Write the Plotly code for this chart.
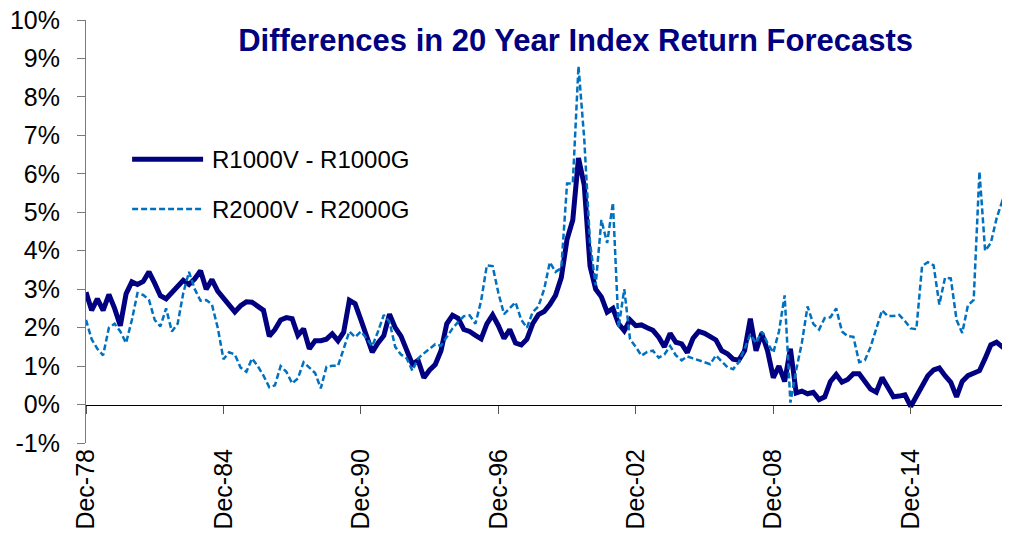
import pandas as pd
import plotly.graph_objects as go

# Quarterly observations, Dec-1978 .. Mar-2019
dates = pd.date_range("1978-12-31", periods=162, freq="QE")

r1000 = [
    2.92, 2.45, 2.75, 2.45, 2.86, 2.50, 2.05, 2.88, 3.19, 3.12,
    3.20, 3.45, 3.15, 2.83, 2.75, 2.92, 3.07, 3.23, 3.12, 3.27,
    3.48, 3.00, 3.25, 2.95, 2.77, 2.60, 2.41, 2.57, 2.67, 2.66,
    2.55, 2.45, 1.78, 1.95, 2.20, 2.26, 2.23, 1.80, 1.97, 1.45,
    1.66, 1.66, 1.70, 1.84, 1.66, 1.88, 2.71, 2.62, 2.20, 1.75,
    1.36, 1.60, 1.79, 2.35, 2.00, 1.78, 1.40, 1.05, 1.15, 0.70,
    0.90, 1.04, 1.40, 2.10, 2.32, 2.24, 1.95, 1.90, 1.80, 1.71,
    2.10, 2.33, 2.05, 1.72, 1.95, 1.60, 1.55, 1.70, 2.10, 2.34,
    2.42, 2.60, 2.84, 3.30, 4.30, 4.80, 6.41, 5.70, 3.60, 3.00,
    2.80, 2.40, 2.50, 2.10, 1.92, 2.20, 2.05, 2.07, 2.00, 1.93,
    1.75, 1.50, 1.85, 1.62, 1.58, 1.35, 1.72, 1.90, 1.85, 1.78,
    1.68, 1.40, 1.32, 1.18, 1.15, 1.40, 2.23, 1.40, 1.85, 1.40,
    0.70, 1.00, 0.60, 1.45, 0.30, 0.35, 0.28, 0.32, 0.13, 0.20,
    0.60, 0.78, 0.58, 0.65, 0.80, 0.80, 0.60, 0.40, 0.32, 0.70,
    0.45, 0.20, 0.22, 0.25, -0.05, 0.20, 0.45, 0.75, 0.90, 0.95,
    0.75, 0.58, 0.20, 0.60, 0.75, 0.80, 0.88, 1.20, 1.55, 1.62,
    1.50, 1.63,
]

r2000 = [
    2.20, 1.70, 1.45, 1.28, 2.00, 2.10, 1.90, 1.60, 2.20, 2.90,
    2.85, 2.72, 2.20, 2.03, 2.50, 1.90, 2.10, 2.90, 3.45, 3.00,
    2.70, 2.72, 2.60, 2.00, 1.18, 1.36, 1.30, 0.96, 0.85, 1.20,
    1.00, 0.75, 0.45, 0.50, 1.00, 0.85, 0.55, 0.68, 1.10, 0.95,
    0.82, 0.42, 0.98, 1.01, 1.01, 1.45, 1.90, 1.75, 1.90, 1.72,
    1.52, 1.90, 2.33, 2.15, 1.50, 1.30, 1.20, 0.88, 1.20, 1.33,
    1.45, 1.57, 1.53, 1.75, 1.98, 2.15, 2.30, 2.32, 2.10, 2.70,
    3.62, 3.60, 2.90, 2.35, 2.50, 2.66, 2.20, 2.00, 2.40, 2.55,
    3.00, 3.70, 3.45, 3.55, 5.75, 5.75, 8.80, 6.90, 4.20, 3.10,
    4.80, 4.20, 5.25, 2.00, 3.00, 1.70, 1.50, 1.27, 1.37, 1.40,
    1.22, 1.30, 1.52, 1.28, 1.15, 1.25, 1.20, 1.14, 1.10, 1.05,
    1.28, 1.12, 0.97, 0.92, 1.10, 1.45, 1.82, 1.60, 1.90, 1.60,
    1.35, 1.90, 2.84, 0.05, 0.90, 1.60, 2.55, 2.10, 1.95, 2.25,
    2.27, 2.50, 1.90, 1.78, 1.76, 1.10, 1.15, 1.50, 2.00, 2.45,
    2.30, 2.30, 2.33, 2.17, 1.98, 1.96, 3.60, 3.70, 3.62, 2.60,
    3.30, 3.28, 2.20, 1.86, 2.58, 2.72, 6.06, 4.00, 4.20, 4.84,
    5.30, 5.15,
]

series_names = ["R1000V - R1000G", "R2000V - R2000G"]
tick_dates = ["1978-12-31", "1984-12-31", "1990-12-31", "1996-12-31",
              "2002-12-31", "2008-12-31", "2014-12-31"]
tick_labels = ["Dec-78", "Dec-84", "Dec-90", "Dec-96", "Dec-02", "Dec-08", "Dec-14"]
y_ticks = list(range(-1, 11))
y_labels = [f"{v}%" for v in y_ticks]

FONT = "Liberation Sans, Arial, sans-serif"
NAVY = "#000080"
BLUE = "#0070C0"
AXIS_GREY = "#7a7a7a"
solid_style = dict(color=NAVY, width=5)
dash_style = dict(color=BLUE, width=2.5, dash="6px,3px")

fig = go.Figure()
fig.add_trace(go.Scatter(x=dates, y=r1000, mode="lines", name=series_names[0],
                         line=solid_style, showlegend=False))
fig.add_trace(go.Scatter(x=dates, y=r2000, mode="lines", name=series_names[1],
                         line=dash_style, showlegend=False))
# invisible trace carrying the zero-crossing axis with tick marks
fig.add_trace(go.Scatter(x=dates, y=r1000, xaxis="x2", mode="lines",
                         showlegend=False, hoverinfo="skip",
                         line=dict(width=0), opacity=0))

# legend drawn in the plot area (long line samples as in the original)
for i, (name, style) in enumerate(zip(series_names, [solid_style, dash_style])):
    ypos = 0.671 - i * 0.118
    fig.add_shape(type="line", xref="paper", yref="paper",
                  x0=0.050, x1=0.127, y0=ypos, y1=ypos, line=style)
    fig.add_annotation(text=name, xref="paper", yref="paper",
                       x=0.1345, y=ypos, xanchor="left", yanchor="middle",
                       showarrow=False, font=dict(size=24, family=FONT, color="black"))

x_range = ["1978-12-31", "2019-03-31"]

fig.update_layout(
    width=1010, height=544,
    margin=dict(l=78, r=10, t=12, b=109, autoexpand=False),
    paper_bgcolor="white", plot_bgcolor="white",
    font=dict(family=FONT, color="black", size=25),
    title=dict(
        text="<b>Differences in 20 Year Index Return Forecasts</b>",
        font=dict(family=FONT, size=31, color=NAVY),
        x=0.562, xanchor="center", y=0.941, yanchor="middle",
    ),
    showlegend=False,
    xaxis=dict(
        type="date", range=x_range, automargin=False,
        tickvals=tick_dates, ticktext=tick_labels, tickangle=-90,
        ticks="", showline=False, showgrid=False, zeroline=False,
        tickfont=dict(size=25, family=FONT), ticklabeloverflow="allow",
    ),
    xaxis2=dict(
        type="date", range=x_range, overlaying="x", anchor="free",
        position=1 / 11, tickvals=tick_dates, ticks="outside", ticklen=8,
        tickcolor="#555", showticklabels=False, showline=True,
        linecolor="black", linewidth=1, showgrid=False, zeroline=False,
        automargin=False,
    ),
    yaxis=dict(
        range=[-1, 10], tickvals=y_ticks, ticktext=y_labels, automargin=False,
        ticks="outside", ticklen=8, tickcolor=AXIS_GREY,
        showline=True, linecolor=AXIS_GREY, linewidth=1,
        showgrid=False, zeroline=False, ticklabelstandoff=12,
        tickfont=dict(size=25, family=FONT), ticklabeloverflow="allow",
    ),
)

fig.write_html("out.html")
